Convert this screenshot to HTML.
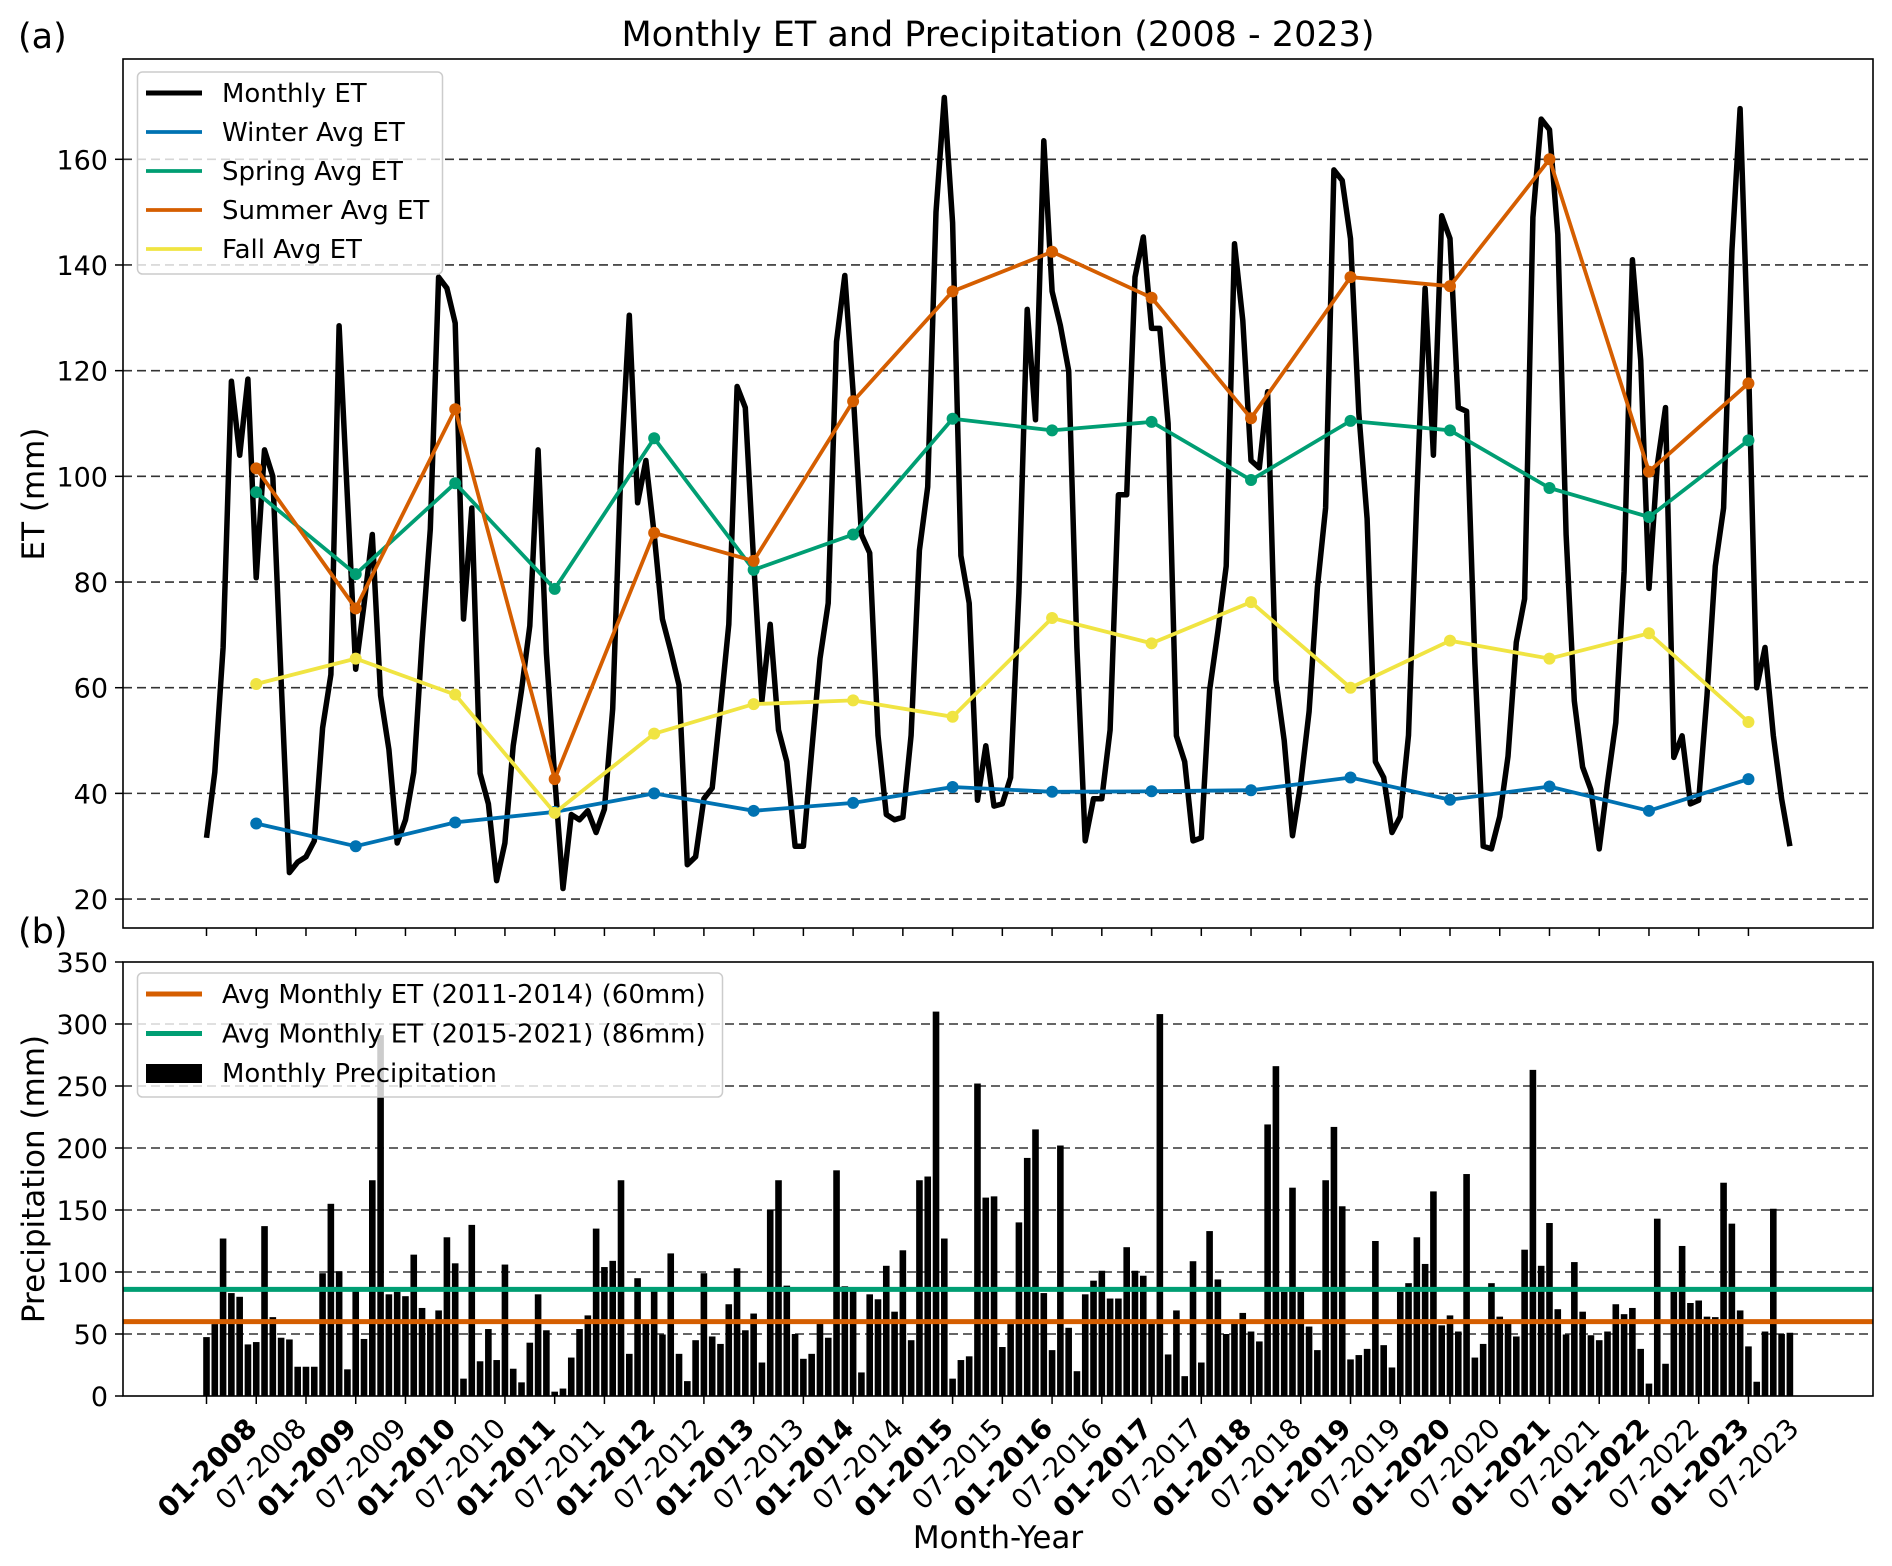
<!DOCTYPE html>
<html><head><meta charset="utf-8"><title>Monthly ET and Precipitation</title>
<style>html,body{margin:0;padding:0;background:#fff}svg{display:block}text{font-family:"DejaVu Sans","Liberation Sans",sans-serif}</style>
</head><body>
<svg id="chart" xmlns="http://www.w3.org/2000/svg" width="1892" height="1566" viewBox="0 0 1892 1566"></svg>
<script>
const monthlyET = [31.6,44,67.6,118,104,118.4,80.8,105,100,61.5,25,27,
28,31,52.4,62.5,128.5,96,63.5,75.7,89,58.5,48.3,30.6,
35,44,68.6,90,137.7,135.6,129,73,94,43.8,38,23.5,
30.6,49,59.5,71.7,105,66.6,43,22,36,35,36.7,32.6,
37,56,102,130.5,95,103,89,73,67,60.5,26.5,28,
39,41,56,72,117,113,84,57.5,72,52,46,30,
30,48,65.5,76,125.5,138,116,89,85.5,51,36,35,
35.5,51,86,98,150,171.7,148,85,76,38.7,49,37.6,
38,43,78,131.6,110.7,163.5,135,128.5,120,67.6,31,39,
39,52,96.5,96.5,137.7,145.3,128,128,110,50.9,46,31,
31.6,59.5,70.7,83,144,129.5,103,101.6,116,61.5,50,32,
42,55.5,79,94,158,156,145,112,92,46,43,32.6,
35.6,51,96,135.6,104,149.3,145,113,112.3,64.6,30,29.5,
35.6,47,68.6,76.8,149,167.6,165.6,145.8,89,57.5,45,40.7,
29.5,42,53.4,82,141,122,78.8,102,113,46.8,50.9,38,
38.7,58.5,83,94,142.7,169.6,122,60,67.6,51,39,30];
const monthlyPrecip = [47.5,58,127,83,80,41.6,43.5,137,63.6,47,45.6,23.6,
23.6,23.6,99,155,100.6,21.5,84.5,46,174,291,82,84,
80.5,114,71,59,69,128,107,14,138,28,54,29,
106,22,11,43,82,53,3.5,6,31,54,65,135,
104,109,174,34,95,59,84.5,49.6,115,34,12,45,
99,48,42,74,103,53,66.5,27,150,174,89,50,
30,34,59,47,182,88.5,84.5,19,82,78,105,68,
117.5,45,174,177,310,127,14,29,32,252,160,161,
39.5,58,140,192,215,83,37,202,55,20,82,93,
101,78.6,78.6,120,101,97,59,308,33.5,69,16,108.7,
27,133,94,50,59,67,52,44,219,266,84,168,
84,56,37,174,217,153,29.5,33,38,125,41,23,
84,91,128,106.5,165,57,65,52,179,31,42,91,
64,59,48,118,263,105,139.5,70,49.6,108,68,49,
45,52,74,66,71,38,10,143,26,84,121,75,
77,64,63.6,172,139,69,40,11.5,52,151,50,51];
const winterAvg = [34.3,30,34.5,36.5,40,36.7,38.2,41.2,40.3,40.4,40.6,43,38.8,41.3,36.7,42.7];
const springAvg = [97,81.5,98.7,78.7,107.2,82.3,89,110.9,108.7,110.3,99.3,110.5,108.7,97.8,92.3,106.8];
const summerAvg = [101.5,75,112.7,42.7,89.3,84,114.2,135,142.5,133.8,111,137.7,136,160,100.9,117.6];
const fallAvg = [60.7,65.5,58.7,36.3,51.3,56.9,57.6,54.5,73.2,68.4,76.2,60,68.9,65.5,70.3,53.5];
const years = [2008,2009,2010,2011,2012,2013,2014,2015,2016,2017,2018,2019,2020,2021,2022,2023];
const etTicks = [20,40,60,80,100,120,140,160];
const precipTicks = [0,50,100,150,200,250,300,350];
const refLines = [60,86];

const NS = "http://www.w3.org/2000/svg";
const svg = document.getElementById('chart');
function mk(tag, attrs, parent){ const e=document.createElementNS(NS,tag); for(const k in attrs) e.setAttribute(k,attrs[k]); (parent||svg).appendChild(e); return e; }

const AX_L=123, AX_R=1873, TOP_T=59, TOP_B=928, BOT_T=962, BOT_B=1396;
const xMonth = i => 206.5 + 8.29*i;
const yET = v => 159.3 + (160 - v)*5.284;
const yP = v => BOT_B - v*(BOT_B-BOT_T)/350;

let t = mk('text',{x:998,y:46,'text-anchor':'middle','font-size':35,fill:'#000'}); t.textContent='Monthly ET and Precipitation (2008 - 2023)';
 
t = mk('text',{x:18,y:48,'font-size':35}); t.textContent='(a)';
 
t = mk('text',{x:18,y:943,'font-size':35}); t.textContent='(b)';
 

const gTop = mk('g',{});
 
mk('rect',{x:AX_L,y:TOP_T,width:AX_R-AX_L,height:TOP_B-TOP_T,fill:'#fff'},gTop);
etTicks.forEach(v=>{
  const y=yET(v);
  const g=mk('line',{x1:AX_L,x2:AX_R,y1:y,y2:y,stroke:'#333','stroke-width':1.6,'stroke-dasharray':'9,5'},gTop);
   
  mk('line',{x1:AX_L-8,x2:AX_L,y1:y,y2:y,stroke:'#000','stroke-width':1.5},gTop);
  const tl=mk('text',{x:AX_L-15,y:y+10,'text-anchor':'end','font-size':27},gTop); tl.textContent=v;
   
});
let pts = monthlyET.map((v,i)=>xMonth(i).toFixed(1)+','+yET(v).toFixed(1)).join(' ');
let pl = mk('polyline',{points:pts,fill:'none',stroke:'#000','stroke-width':5.5,'stroke-linejoin':'round'},gTop);
 
const seasons = [['winter',winterAvg,'#0072B2'],['spring',springAvg,'#009E73'],['summer',summerAvg,'#D55E00'],['fall',fallAvg,'#F0E442']];
seasons.forEach(([nm,arr,col])=>{
  const g=mk('g',{},gTop);
   
  const p=arr.map((v,k)=>xMonth(6+12*k).toFixed(1)+','+yET(v).toFixed(1)).join(' ');
  const l=mk('polyline',{points:p,fill:'none',stroke:col,'stroke-width':3.8},g);
   
  arr.forEach((v,k)=>{
    const c=mk('circle',{cx:xMonth(6+12*k),cy:yET(v),r:6,fill:col},g);
     
  });
});
for(let j=0;j<32;j++){ const x=xMonth(6*j); mk('line',{x1:x,x2:x,y1:TOP_B,y2:TOP_B+8,stroke:'#000','stroke-width':1.5},gTop); }
const lg1 = mk('g',{},gTop);
 
mk('rect',{x:137.5,y:72,width:305,height:202,rx:5,fill:'#fff','fill-opacity':0.8,stroke:'#ccc','stroke-width':1.5},lg1);
const leg1 = [['Monthly ET','#000'],['Winter Avg ET','#0072B2'],['Spring Avg ET','#009E73'],['Summer Avg ET','#D55E00'],['Fall Avg ET','#F0E442']];
leg1.forEach(([lab,col],k)=>{
  const y=93+k*39;
  const e=mk('g',{},lg1);
   
  mk('line',{x1:146,x2:202,y1:y,y2:y,stroke:col,'stroke-width':k===0?5:3.8},e);
  const tx=mk('text',{x:222,y:y+9,'font-size':26},e); tx.textContent=lab;
});
mk('rect',{x:AX_L,y:TOP_T,width:AX_R-AX_L,height:TOP_B-TOP_T,fill:'none',stroke:'#000','stroke-width':1.6},gTop);
t = mk('text',{transform:'translate(44,494) rotate(-90)','text-anchor':'middle','font-size':31}); t.textContent='ET (mm)';
 

const gBot = mk('g',{});
 
mk('rect',{x:AX_L,y:BOT_T,width:AX_R-AX_L,height:BOT_B-BOT_T,fill:'#fff'},gBot);
precipTicks.forEach(v=>{
  const y=yP(v);
  if(v>0 && v<350){ const g=mk('line',{x1:AX_L,x2:AX_R,y1:y,y2:y,stroke:'#333','stroke-width':1.6,'stroke-dasharray':'9,5'},gBot);
      }
  mk('line',{x1:AX_L-8,x2:AX_L,y1:y,y2:y,stroke:'#000','stroke-width':1.5},gBot);
  const tl=mk('text',{x:AX_L-15,y:y+10,'text-anchor':'end','font-size':27},gBot); tl.textContent=v;
   
});
monthlyPrecip.forEach((v,i)=>{
  const b=mk('rect',{x:xMonth(i)-3.3,y:yP(v),width:6.6,height:BOT_B-yP(v),fill:'#000'},gBot);
   
});
const refCols=['#D55E00','#009E73'];
refLines.forEach((v,k)=>{
  const l=mk('line',{x1:AX_L,x2:AX_R,y1:yP(v),y2:yP(v),stroke:refCols[k],'stroke-width':5},gBot);
   
});
const lg2 = mk('g',{},gBot);
 
mk('rect',{x:137.5,y:973,width:585,height:124,rx:5,fill:'#fff','fill-opacity':0.8,stroke:'#ccc','stroke-width':1.5},lg2);
const leg2 = [['Avg Monthly ET (2011-2014) (60mm)','#D55E00'],['Avg Monthly ET (2015-2021) (86mm)','#009E73'],['Monthly Precipitation','#000']];
leg2.forEach(([lab,col],k)=>{
  const y=994+k*39.5;
  const e=mk('g',{},lg2);
   
  if(k<2) mk('line',{x1:146,x2:202,y1:y,y2:y,stroke:col,'stroke-width':5},e);
  else mk('rect',{x:146,y:y-9,width:56,height:19,fill:'#000'},e);
  const tx=mk('text',{x:222,y:y+9,'font-size':26},e); tx.textContent=lab;
});
mk('rect',{x:AX_L,y:BOT_T,width:AX_R-AX_L,height:BOT_B-BOT_T,fill:'none',stroke:'#000','stroke-width':1.6},gBot);
for(let j=0;j<32;j++){
  const x=xMonth(6*j);
  mk('line',{x1:x,x2:x,y1:BOT_B,y2:BOT_B+8,stroke:'#000','stroke-width':1.5},gBot);
  const yr=years[Math.floor(j/2)];
  const bold=j%2===0;
  const lab=(bold?'01-':'07-')+yr;
  const ax=x+52, ay=1430;
  const tl=mk('text',{transform:'translate('+ax+','+ay+') rotate(-45)','text-anchor':'end','font-size':27.5,'font-weight':bold?'bold':'normal'},gBot);
  tl.textContent=lab;
   
}
t = mk('text',{transform:'translate(44,1179) rotate(-90)','text-anchor':'middle','font-size':31}); t.textContent='Precipitation (mm)';
 
t = mk('text',{x:998,y:1548,'text-anchor':'middle','font-size':31}); t.textContent='Month-Year';
 
</script>
</body></html>
